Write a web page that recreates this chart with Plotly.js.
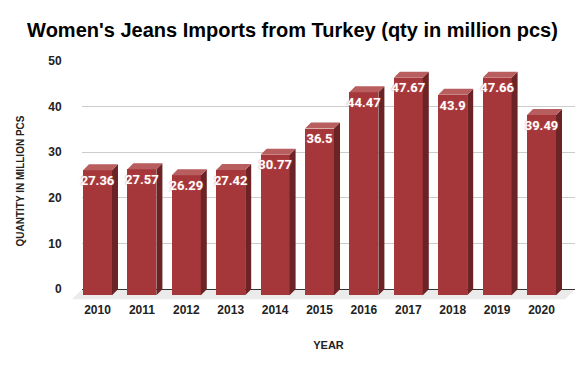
<!DOCTYPE html>
<html>
<head>
<meta charset="utf-8">
<script src="https://cdn.plot.ly/plotly-3.0.1.min.js"></script>
<style>html,body{margin:0;padding:0;background:#fff;}#chart{width:585px;height:371px;}</style>
</head>
<body>
<div id="chart"></div>
<script>
// ---- data ----
const years = ['2010','2011','2012','2013','2014','2015','2016','2017','2018','2019','2020'];
const qty = [27.36, 27.57, 26.29, 27.42, 30.77, 36.5, 44.47, 47.67, 43.9, 47.66, 39.49];
const yTickVals = [0, 10, 20, 30, 40, 50];
const labels = qty.map(v => String(v));

// ---- geometry (pixels) ----
const W = 585, H = 371;
const M = {l: 82, r: 10, t: 61, b: 70};
const plotW = W - M.l - M.r, plotH = H - M.t - M.b;
const firstFrontPx = 97.5, stepPx = 44.4;     // front-face centre of first bar, spacing
const depthX = 6, depthY = 6;                  // 3D depth offset of bars
const labelDropPx = 5;                         // extra drop of value labels
const yMin = -2.6, yMax = 50;                  // back plane value range
const pxPerY = plotH / (yMax - yMin);
const barW = 29 / stepPx;
const dxu = depthX / stepPx, dyu = depthY / pxPerY;

const x2Range = [(M.l - firstFrontPx) / stepPx, (W - M.r - firstFrontPx) / stepPx];
const xRange = [x2Range[0] - dxu, x2Range[1] - dxu];
const y2Range = [yMin + dyu, yMax + dyu];
const y3Range = [y2Range[0] + labelDropPx / pxPerY, y2Range[1] + labelDropPx / pxPerY];
const idx = years.map((_, i) => i);

// side & top faces built from the data values
const sideX = [], sideY = [], topX = [], topY = [];
qty.forEach((v, i) => {
  const r = i + barW / 2, l = i - barW / 2;
  sideX.push(r, r + dxu, r + dxu, r, r, null);
  sideY.push(0, dyu, v + dyu, v, 0, null);
  topX.push(l, l + dxu, r + dxu, r, l, null);
  topY.push(v, v + dyu, v + dyu, v, v, null);
});

const traces = [
  {type: 'scatter', x: [], y: [], xaxis: 'x', yaxis: 'y', mode: 'markers', hoverinfo: 'skip'},
  {type: 'scatter', x: sideX, y: sideY, xaxis: 'x2', yaxis: 'y2', mode: 'lines',
   fill: 'toself', fillcolor: '#6b2326', line: {width: 0, color: '#6b2326'}, hoverinfo: 'skip'},
  {type: 'scatter', x: topX, y: topY, xaxis: 'x2', yaxis: 'y2', mode: 'lines',
   fill: 'toself', fillcolor: '#b85e5f', line: {width: 0, color: '#b85e5f'}, hoverinfo: 'skip'},
  {type: 'bar', x: idx, y: qty, xaxis: 'x2', yaxis: 'y2', width: barW,
   marker: {color: '#a5373a', line: {width: 0}}, hoverinfo: 'skip'},
  {type: 'scatter', x: idx, y: qty, xaxis: 'x2', yaxis: 'y3', mode: 'text',
   text: labels, textposition: 'bottom center', cliponaxis: false,
   textfont: {family: 'Roboto, Arial, sans-serif', size: 13, color: '#ffffff', weight: 'bold',
              shadow: '0px 0px 2px #c45a5a'}, hoverinfo: 'skip'}
];

// floor (paper coords derived from the axes)
const pxToPaperX = px => (px - M.l) / plotW;
const yToPaper = y => (y - yMin) / (yMax - yMin);
const floorDepthPx = 10;
const floorPath = 'M ' + pxToPaperX(M.l) + ',' + yToPaper(0) +
  ' L ' + pxToPaperX(W - M.r) + ',' + yToPaper(0) +
  ' L ' + pxToPaperX(W - M.r - floorDepthPx) + ',' + yToPaper(-floorDepthPx / pxPerY) +
  ' L ' + pxToPaperX(M.l - floorDepthPx) + ',' + yToPaper(-floorDepthPx / pxPerY) + ' Z';

const tickFont = {family: 'Liberation Sans, Arial, sans-serif', size: 12, color: '#222', weight: 'bold'};

const layout = {
  width: W, height: H, margin: M,
  paper_bgcolor: '#ffffff', plot_bgcolor: 'rgba(0,0,0,0)',
  showlegend: false, hovermode: false,
  title: {text: "Women's Jeans Imports from Turkey (qty in million pcs)",
          x: 0.5, xref: 'container', xanchor: 'center', y: 1 - 30 / H, yanchor: 'middle',
          font: {family: 'Liberation Sans, Arial, sans-serif', size: 20, color: '#000', weight: 'bold'}},
  xaxis: {range: xRange, showgrid: false, zeroline: false, showticklabels: false, showline: false, fixedrange: true},
  yaxis: {range: [yMin, yMax], tickvals: yTickVals, ticktext: yTickVals.map(String),
          showgrid: true, gridcolor: '#cccccc', gridwidth: 1,
          zeroline: true, zerolinecolor: '#333333', zerolinewidth: 1,
          ticks: 'outside', ticklen: 17, tickcolor: 'rgba(0,0,0,0)', tickfont: tickFont,
          showline: false, fixedrange: true,
          title: {text: 'QUANTITY IN MILLION PCS', standoff: 21,
                  font: {family: 'Liberation Sans, Arial, sans-serif', size: 10, color: '#222', weight: 'bold'}}},
  xaxis2: {range: x2Range, overlaying: 'x', anchor: 'y2', side: 'bottom',
           tickvals: idx, ticktext: years, tickfont: tickFont,
           ticks: '', showgrid: false, zeroline: false, showline: false, fixedrange: true,
           title: {text: 'YEAR', standoff: 25,
                   font: {family: 'Liberation Sans, Arial, sans-serif', size: 11, color: '#222', weight: 'bold'}}},
  yaxis2: {range: y2Range, overlaying: 'y', anchor: 'x2', showgrid: false, zeroline: false,
           showticklabels: false, showline: false, fixedrange: true},
  yaxis3: {range: y3Range, overlaying: 'y', anchor: 'x2', showgrid: false, zeroline: false,
           showticklabels: false, showline: false, fixedrange: true},
  shapes: [{type: 'path', xref: 'paper', yref: 'paper', path: floorPath,
            fillcolor: '#ebebeb', line: {width: 0}, layer: 'below'}],
  bargap: 0
};

Plotly.newPlot('chart', traces, layout, {displayModeBar: false, staticPlot: true});
</script>
</body>
</html>
